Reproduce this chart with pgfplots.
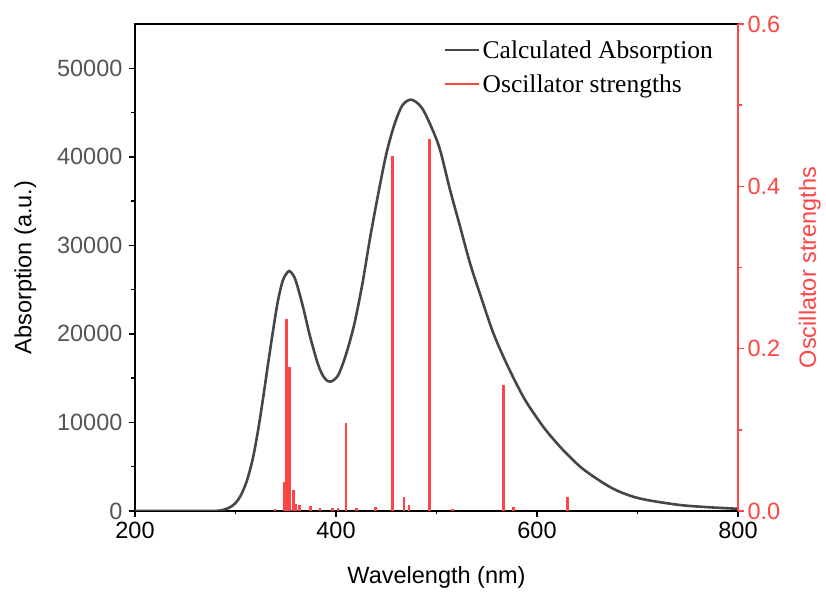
\documentclass[border=0pt]{standalone}
\usepackage{pgfplots}
\pgfplotsset{compat=1.18}
\usepackage{fontspec}
\setmainfont{Liberation Sans}
\newfontfamily\legfont{Liberation Serif}
\definecolor{curvegray}{RGB}{70,70,70}
\definecolor{stickred}{RGB}{255,68,68}
\definecolor{ticklabgray}{RGB}{85,85,85}
\begin{document}
\begin{tikzpicture}
\pgfplotsset{
  every axis/.append style={
    scale only axis, width=603pt, height=487pt,
    xmin=200, xmax=800,
    tick align=outside,
    major tick length=6pt, minor tick length=3.5pt,
    every tick/.style={line width=1.5pt},
    /pgf/number format/assume math mode=true,
    /pgf/number format/1000 sep={},
    font=\fontsize{23.5}{28}\selectfont,
  }
}
\begin{axis}[
  name=ax,
  ymin=0, ymax=55000,
  axis line style={line width=1.8pt, black},
  xtick={200,400,600,800}, minor x tick num=1,
  ytick={0,10000,20000,30000,40000,50000}, minor y tick num=1,
  xtick pos=bottom, ytick pos=left,
  scaled y ticks=false,
  yticklabel style={text=ticklabgray, xshift=-3pt},
  xticklabel style={yshift=-2pt},
  xlabel={Wavelength (nm)}, ylabel={Absorption (a.u.)},
  xlabel style={at={(axis description cs:0.5,-0.1355)}, anchor=center},
  ylabel style={at={(axis description cs:-0.182,0.5)}, anchor=center},
]
\addplot[curvegray, line width=2.6pt, smooth] coordinates {
(200,0) (275,0) (280,10) (285,60) (290,200) (295,450) (300,900) (305,1700) (311,3300)
(317,5800) (322,8800) (327,12400) (332,16300) (337,20100) (342,23600) (347,26000)
(352,27000) (355,27000) (360,26000) (367.5,22900) (374,19800) (382,16600) (388,15100)
(394,14600) (402,15300) (410,17700) (418,21000) (426,25500) (434,30900) (442,35800)
(450,40300) (458,43600) (466,45800) (475,46450) (485.3,45550) (495.2,43280)
(503.5,40800) (513.4,36300) (523.4,32150) (533.3,28000) (543.3,24500) (556.5,20100)
(569.9,16600) (583,13600) (590,12200) (600,10500) (609.7,9000) (625,7000) (643,5000)
(660,3600) (676,2500) (692,1750) (709,1250) (742,680) (770,430) (800,250)
};
\end{axis}
\begin{axis}[
  ymin=0, ymax=0.6,
  axis y line*=right, axis x line=none,
  y axis line style={line width=1.8pt, stickred},
  ytick={0,0.2,0.4,0.6}, minor y tick num=1,
  every y tick/.style={stickred, line width=1.5pt},
  yticklabel style={text=stickred, /pgf/number format/.cd, fixed, fixed zerofill, precision=1},
  ylabel={Oscillator strengths},
  ylabel style={text=stickred, at={(axis description cs:1.119,0.5)}, anchor=center},
  legend style={at={(axis description cs:0.509,0.975)}, anchor=north west, draw=none, fill=none,
    font=\legfont\fontsize{25.5}{29}\selectfont, row sep=11pt,
    inner sep=2pt},
  legend cell align=left,
  legend image code/.code={\draw[#1, line width=2.6pt] (0pt,0pt) -- (34pt,0pt);},
]
\addlegendimage{curvegray}
\addlegendentry{Calculated Absorption}
\addplot[ycomb, stickred, line width=2.8pt, no marks] coordinates {
(339.3,0.002) (348.6,0.036) (351,0.236) (353.5,0.178) (357.5,0.026) (359.5,0.009)
(363.5,0.008) (374.8,0.006) (384,0.004) (396.7,0.004) (402,0.004) (410,0.109)
(420,0.004) (439.5,0.005) (456.5,0.437) (467.7,0.017) (472.6,0.007) (493,0.458)
(515.7,0.002) (566.5,0.155) (576.4,0.005) (630.5,0.017)
};
\addlegendentry{Oscillator strengths}
\end{axis}
\path ([xshift=-135pt,yshift=-79pt]ax.south west) rectangle ([xshift=88pt,yshift=24pt]ax.north east);
\end{tikzpicture}
\end{document}
